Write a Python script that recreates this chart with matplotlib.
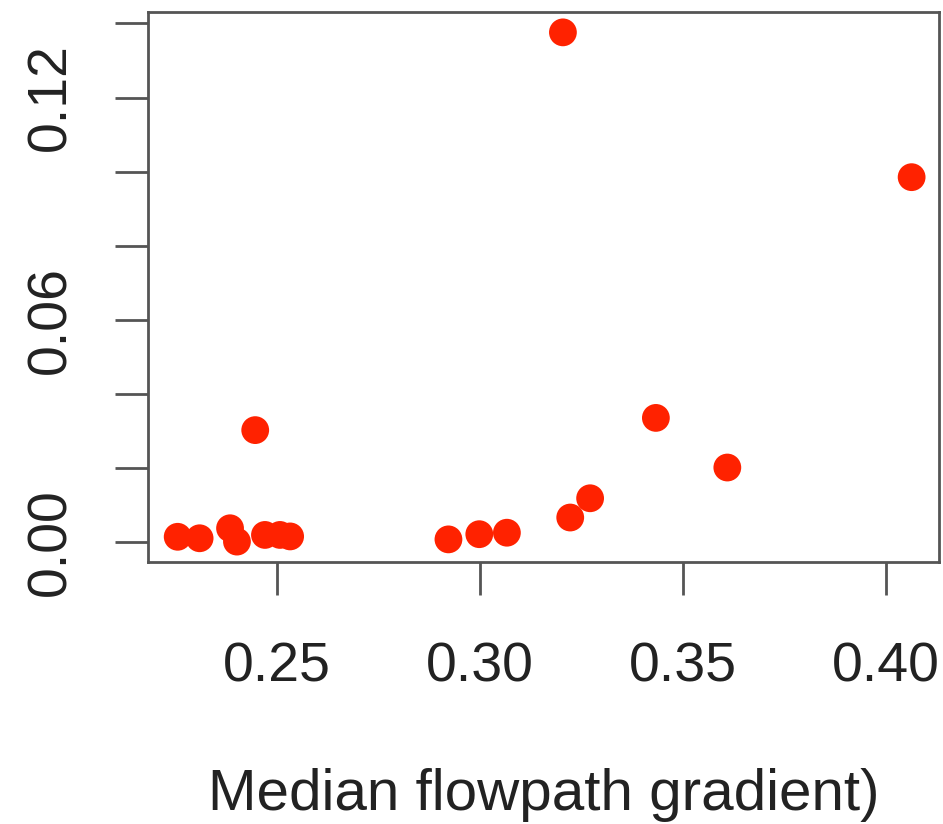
import numpy as np
import matplotlib.pyplot as plt

## Values
gradient = [0.2255, 0.2309, 0.2384, 0.2401, 0.2446, 0.2470, 0.2507, 0.2532,
            0.2922, 0.2998, 0.3066, 0.3222, 0.3271, 0.3433, 0.3609, 0.3204, 0.4063]
response = [0.0014, 0.0010, 0.0037, 0.0001, 0.0302, 0.0019, 0.0019, 0.0015,
            0.0007, 0.0021, 0.0025, 0.0066, 0.0118, 0.0335, 0.0201, 0.1376, 0.0985]

x_ticks = [0.25, 0.30, 0.35, 0.40]
y_ticks = [0.00, 0.02, 0.04, 0.06, 0.08, 0.10, 0.12, 0.14]
y_labels = ['0.00', '', '', '0.06', '', '', '0.12', '']

plt.rcParams['font.family'] = ['Liberation Sans', 'DejaVu Sans']

fig = plt.figure(figsize=(9.43, 8.24), dpi=100)
ax = fig.add_axes([0.157, 0.318, 0.839, 0.667])

ax.scatter(gradient, response, s=400, color='#ff2200', edgecolors='none', zorder=3)

ax.set_xlim(0.2182, 0.4131)
ax.set_ylim(-0.0054, 0.143)

ax.set_xticks(x_ticks)
ax.set_xticklabels(['%.2f' % v for v in x_ticks])
ax.set_yticks(y_ticks)
ax.set_yticklabels(y_labels, rotation=90, va='center')

for side in ax.spines.values():
    side.set_linewidth(2)
    side.set_color('#555555')

ax.tick_params(axis='both', length=24, width=2, color='#555555', labelsize=40, labelcolor='#222222')
ax.tick_params(axis='x', pad=33)
ax.tick_params(axis='y', pad=27)

ax.set_xlabel('Median flowpath gradient)', fontsize=42, color='#222222', labelpad=54)

fig.savefig('out.png', dpi=100)
